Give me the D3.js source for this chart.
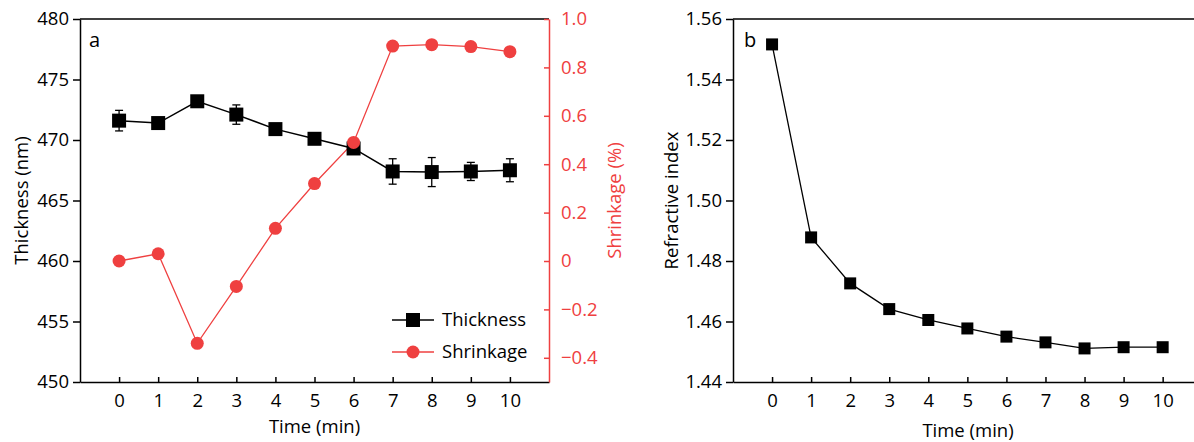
<!DOCTYPE html>
<html>
<head>
<meta charset="utf-8">
<script src="https://cdn.jsdelivr.net/npm/d3@7"></script>
<style>
  body { margin: 0; background: #fff; }
  svg text { font-family: "Open Sans", "Noto Sans", sans-serif; }
</style>
</head>
<body>
<svg id="chart" width="1194" height="442"></svg>
<script>
'use strict';
// values
const times = [0, 1, 2, 3, 4, 5, 6, 7, 8, 9, 10];
const thickness = [471.6, 471.4, 473.2, 472.1, 470.9, 470.1, 469.3, 467.4, 467.35, 467.4, 467.5];
const thicknessErr = [0.85, 0.3, 0.4, 0.8, 0.3, 0.3, 0.3, 1.05, 1.2, 0.75, 0.95];
const shrinkage = [0.0, 0.03, -0.34, -0.105, 0.135, 0.32, 0.49, 0.888, 0.894, 0.886, 0.865];
const refIndex = [1.5516, 1.4878, 1.4726, 1.4641, 1.4605, 1.4577, 1.455, 1.4531, 1.4511, 1.4515, 1.4515];

const thickTicks = [450, 455, 460, 465, 470, 475, 480];
const shrinkTicks = [-0.4, -0.2, 0, 0.2, 0.4, 0.6, 0.8, 1.0];
const riTicks = [1.44, 1.46, 1.48, 1.50, 1.52, 1.54, 1.56];

const red = '#ef4040';
const fontSize = 18.5;
const svg = d3.select('#chart');

const plotTop = 19, plotBottom = 382;

function minus(s) { return s.replace('-', '\u2212'); }

// ========== panel a ==========
(function () {
  const left = 80, right = 549;
  const x = d3.scaleLinear().domain([-1, 11]).range([left, right]);
  const y = d3.scaleLinear().domain([450, 480]).range([plotBottom, plotTop]);
  const y2 = d3.scaleLinear().domain([-0.5, 1.0]).range([plotBottom, plotTop]);
  const g = svg.append('g');

  // top frame
  g.append('line').attr('x1', left).attr('x2', right).attr('y1', plotTop).attr('y2', plotTop)
    .attr('stroke', '#000').attr('stroke-width', 1.5);

  const xAxis = g.append('g').attr('transform', `translate(0,${plotBottom})`)
    .call(d3.axisBottom(x).tickValues(times).tickSizeInner(-5).tickSizeOuter(0).tickPadding(12));
  const yAxis = g.append('g').attr('transform', `translate(${left},0)`)
    .call(d3.axisLeft(y).tickValues(thickTicks).tickSizeInner(7).tickSizeOuter(0).tickPadding(4));
  const y2Axis = g.append('g').attr('transform', `translate(${right},0)`)
    .call(d3.axisRight(y2).tickValues(shrinkTicks).tickSizeInner(-5).tickSizeOuter(0).tickPadding(12)
      .tickFormat(d => d === 0 ? '0' : minus(d3.format('.1f')(d))));

  [xAxis, yAxis].forEach(a => {
    a.selectAll('path,line').attr('stroke', '#000').attr('stroke-width', 1.5);
    a.selectAll('text').attr('fill', '#000').attr('font-size', fontSize);
  });
  y2Axis.selectAll('path,line').attr('stroke', red).attr('stroke-width', 1.5);
  y2Axis.selectAll('text').attr('fill', red).attr('font-size', fontSize);
  xAxis.selectAll('text').attr('dy', '0.71em');

  // shrinkage
  const sData = times.map((t, i) => ({ t, v: shrinkage[i] }));
  g.append('path').datum(sData)
    .attr('fill', 'none').attr('stroke', red).attr('stroke-width', 1.3)
    .attr('d', d3.line().x(d => x(d.t)).y(d => y2(d.v)));

  // thickness line + error bars
  const tData = times.map((t, i) => ({ t, v: thickness[i], e: thicknessErr[i] }));
  g.append('path').datum(tData)
    .attr('fill', 'none').attr('stroke', '#000').attr('stroke-width', 1.5)
    .attr('d', d3.line().x(d => x(d.t)).y(d => y(d.v)));

  const eb = g.selectAll('.eb').data(tData).enter().append('g').attr('class', 'eb')
    .attr('stroke', '#000').attr('stroke-width', 1.3);
  eb.append('line').attr('x1', d => x(d.t)).attr('x2', d => x(d.t))
    .attr('y1', d => y(d.v - d.e)).attr('y2', d => y(d.v + d.e));
  eb.append('line').attr('x1', d => x(d.t) - 4).attr('x2', d => x(d.t) + 4)
    .attr('y1', d => y(d.v - d.e)).attr('y2', d => y(d.v - d.e));
  eb.append('line').attr('x1', d => x(d.t) - 4).attr('x2', d => x(d.t) + 4)
    .attr('y1', d => y(d.v + d.e)).attr('y2', d => y(d.v + d.e));

  g.selectAll('.sq').data(tData).enter().append('rect')
    .attr('x', d => x(d.t) - 7).attr('y', d => y(d.v) - 7)
    .attr('width', 14).attr('height', 14).attr('fill', '#000');

  g.selectAll('.dot').data(sData).enter().append('circle')
    .attr('cx', d => x(d.t)).attr('cy', d => y2(d.v)).attr('r', 6.5).attr('fill', red);

  // legend
  const lg = g.append('g');
  lg.append('line').attr('x1', 392).attr('x2', 434).attr('y1', 320).attr('y2', 320)
    .attr('stroke', '#000').attr('stroke-width', 1.5);
  lg.append('rect').attr('x', 413 - 7).attr('y', 320 - 7).attr('width', 14).attr('height', 14).attr('fill', '#000');
  lg.append('text').attr('x', 442).attr('y', 320).attr('dy', '0.35em').attr('font-size', fontSize).text('Thickness');
  lg.append('line').attr('x1', 392).attr('x2', 434).attr('y1', 352).attr('y2', 352)
    .attr('stroke', red).attr('stroke-width', 1.3);
  lg.append('circle').attr('cx', 413).attr('cy', 352).attr('r', 6.5).attr('fill', red);
  lg.append('text').attr('x', 442).attr('y', 352).attr('dy', '0.35em').attr('font-size', fontSize).text('Shrinkage');

  g.append('text').attr('x', 89).attr('y', 40).attr('dy', '0.35em').attr('font-size', fontSize + 1.5).text('a');

  g.append('text').attr('x', (left + right) / 2).attr('y', 433).attr('text-anchor', 'middle')
    .attr('font-size', fontSize).text('Time (min)');
  g.append('text').attr('transform', `translate(28,${(plotTop + plotBottom) / 2}) rotate(-90)`)
    .attr('text-anchor', 'middle').attr('font-size', fontSize).text('Thickness (nm)');
  g.append('text').attr('transform', `translate(621,${(plotTop + plotBottom) / 2}) rotate(-90)`)
    .attr('text-anchor', 'middle').attr('font-size', fontSize).attr('fill', red).text('Shrinkage (%)');
})();

// ========== panel b ==========
(function () {
  const left = 733;
  const x = d3.scaleLinear().domain([-1, 11]).range([left, left + 12 * 39.06]);
  const y = d3.scaleLinear().domain([1.44, 1.56]).range([plotBottom, plotTop]);
  const g = svg.append('g');

  g.append('line').attr('x1', left).attr('x2', 1194).attr('y1', plotTop).attr('y2', plotTop)
    .attr('stroke', '#000').attr('stroke-width', 1.5);

  const xAxis = g.append('g').attr('transform', `translate(0,${plotBottom})`)
    .call(d3.axisBottom(x).tickValues(times).tickSizeInner(-5).tickSizeOuter(0).tickPadding(12));
  const yAxis = g.append('g').attr('transform', `translate(${left},0)`)
    .call(d3.axisLeft(y).tickValues(riTicks).tickSizeInner(7).tickSizeOuter(0).tickPadding(4)
      .tickFormat(d3.format('.2f')));
  [xAxis, yAxis].forEach(a => {
    a.selectAll('path,line').attr('stroke', '#000').attr('stroke-width', 1.5);
    a.selectAll('text').attr('fill', '#000').attr('font-size', fontSize);
  });
  xAxis.selectAll('text').attr('dy', '0.71em');

  const rData = times.map((t, i) => ({ t, v: refIndex[i] }));
  g.append('path').datum(rData)
    .attr('fill', 'none').attr('stroke', '#000').attr('stroke-width', 1.3)
    .attr('d', d3.line().x(d => x(d.t)).y(d => y(d.v)));
  g.selectAll('.sq').data(rData).enter().append('rect')
    .attr('x', d => x(d.t) - 6).attr('y', d => y(d.v) - 6)
    .attr('width', 12).attr('height', 12).attr('fill', '#000');

  g.append('text').attr('x', 744).attr('y', 40).attr('dy', '0.35em').attr('font-size', fontSize + 1.5).text('b');
  g.append('text').attr('x', 968).attr('y', 437).attr('text-anchor', 'middle')
    .attr('font-size', fontSize).text('Time (min)');
  g.append('text').attr('transform', `translate(678,${(plotTop + plotBottom) / 2}) rotate(-90)`)
    .attr('text-anchor', 'middle').attr('font-size', fontSize).text('Refractive index');
})();
</script>
</body>
</html>
